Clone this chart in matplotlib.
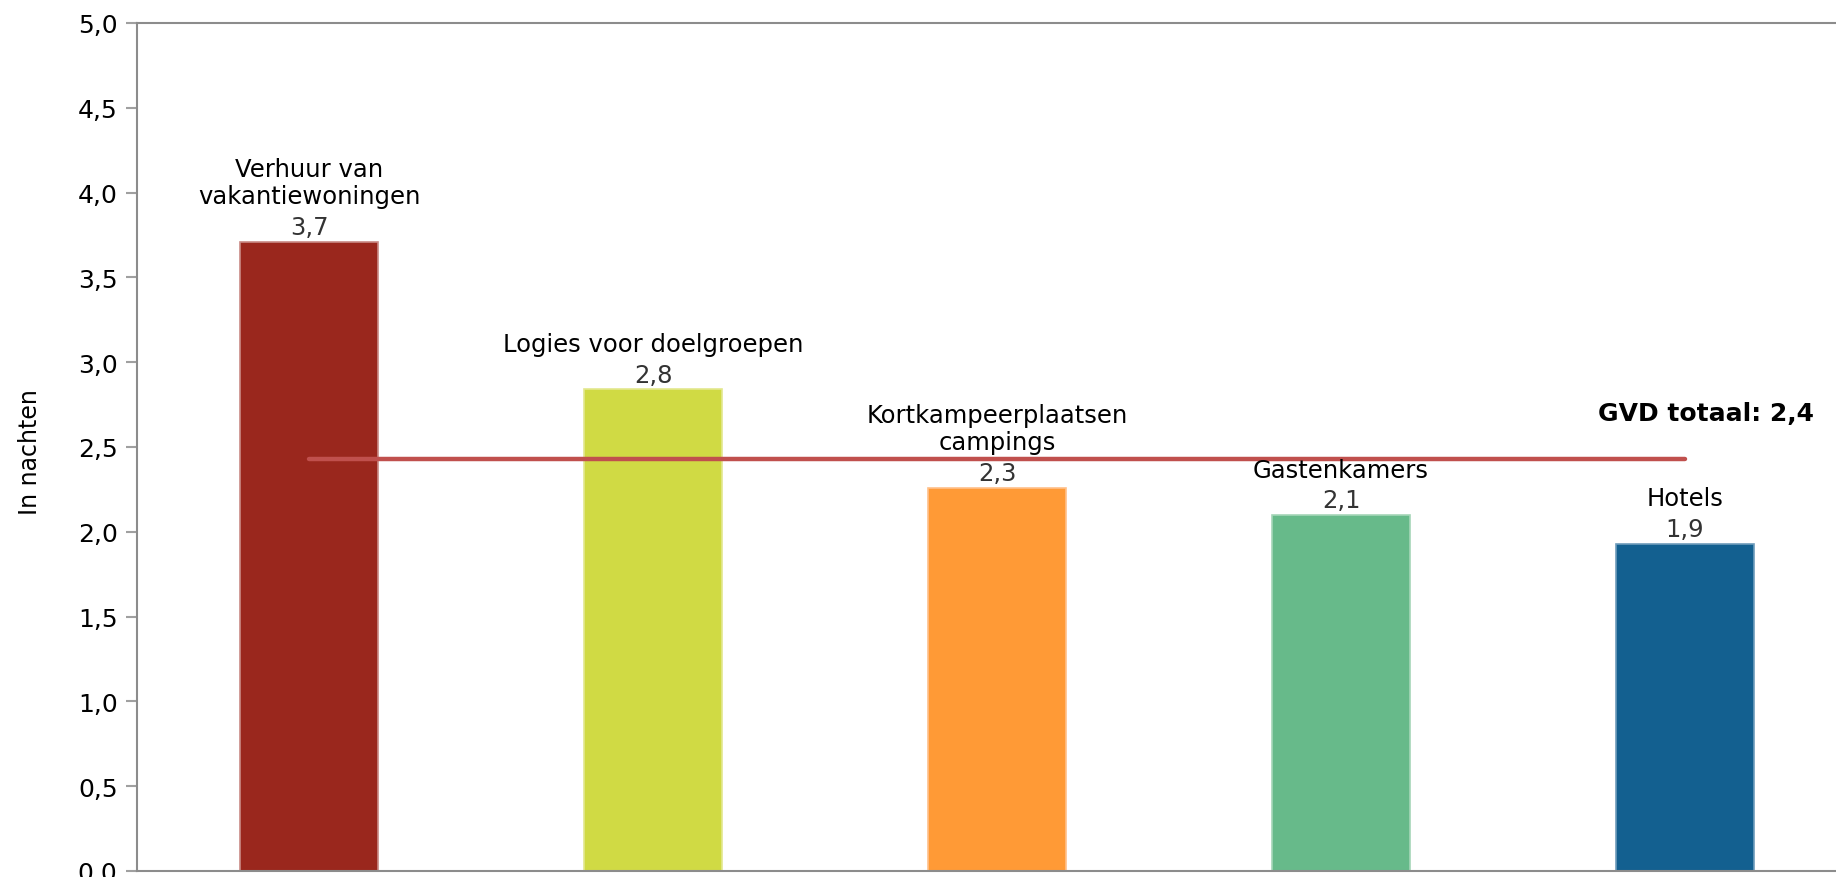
import matplotlib.pyplot as plt

categories = ["Verhuur van\nvakantiewoningen", "Logies voor doelgroepen",
              "Kortkampeerplaatsen\ncampings", "Gastenkamers", "Hotels"]
values = [3.71, 2.84, 2.26, 2.10, 1.93]
value_labels = ["3,7", "2,8", "2,3", "2,1", "1,9"]
colors = ["#9A271D", "#D0DA44", "#FF9A36", "#67BA8A", "#136090"]
edge_colors = ["#C98A85", "#E3E88F", "#FFC08A", "#A5D6B8", "#6E9CBB"]
total = 2.43
total_label = "GVD totaal: 2,4"
yticks = [0.0, 0.5, 1.0, 1.5, 2.0, 2.5, 3.0, 3.5, 4.0, 4.5, 5.0]
ytick_labels = ["0,0", "0,5", "1,0", "1,5", "2,0", "2,5", "3,0", "3,5", "4,0", "4,5", "5,0"]

fig = plt.figure(figsize=(18.36, 8.78), dpi=100)
ax = fig.add_axes([137 / 1836, 6 / 878, (1857 - 137) / 1836, (872 - 24) / 878])

x = list(range(len(categories)))
ax.bar(x, values, width=0.4, color=colors, edgecolor=edge_colors, linewidth=1.2, zorder=2)

# average line over all categories
ax.plot(x, [total] * len(x), color="#C0504D", linewidth=3.2, solid_capstyle="round", zorder=3)

for i in x:
    ax.annotate(value_labels[i], (i, values[i]), xytext=(0, 2), textcoords="offset points",
                ha="center", va="bottom", fontsize=17.5, color="#333333", zorder=4)
    ax.annotate(categories[i], (i, values[i]), xytext=(0, 24), textcoords="offset points",
                ha="center", va="bottom", fontsize=17.5, color="black",
                linespacing=1.2, zorder=4)

ax.text(4.375, 2.7, total_label, ha="right", va="center", fontsize=18,
        fontweight="bold", color="black")

ax.set_xlim(-0.5, 4.5)
ax.set_ylim(0, 5)
ax.set_yticks(yticks)
ax.set_yticklabels(ytick_labels, fontsize=18)
ax.set_xticks([])
ax.tick_params(axis="y", direction="out", length=8, width=1.5, color="#A0A0A0", pad=6)
for s in ax.spines.values():
    s.set_color("#8C8C8C")
    s.set_linewidth(1.5)

fig.text(30 / 1836, 1 - 452 / 878, "In nachten", rotation=90, ha="center", va="center",
         fontsize=17)

fig.savefig("out.png", dpi=100)
